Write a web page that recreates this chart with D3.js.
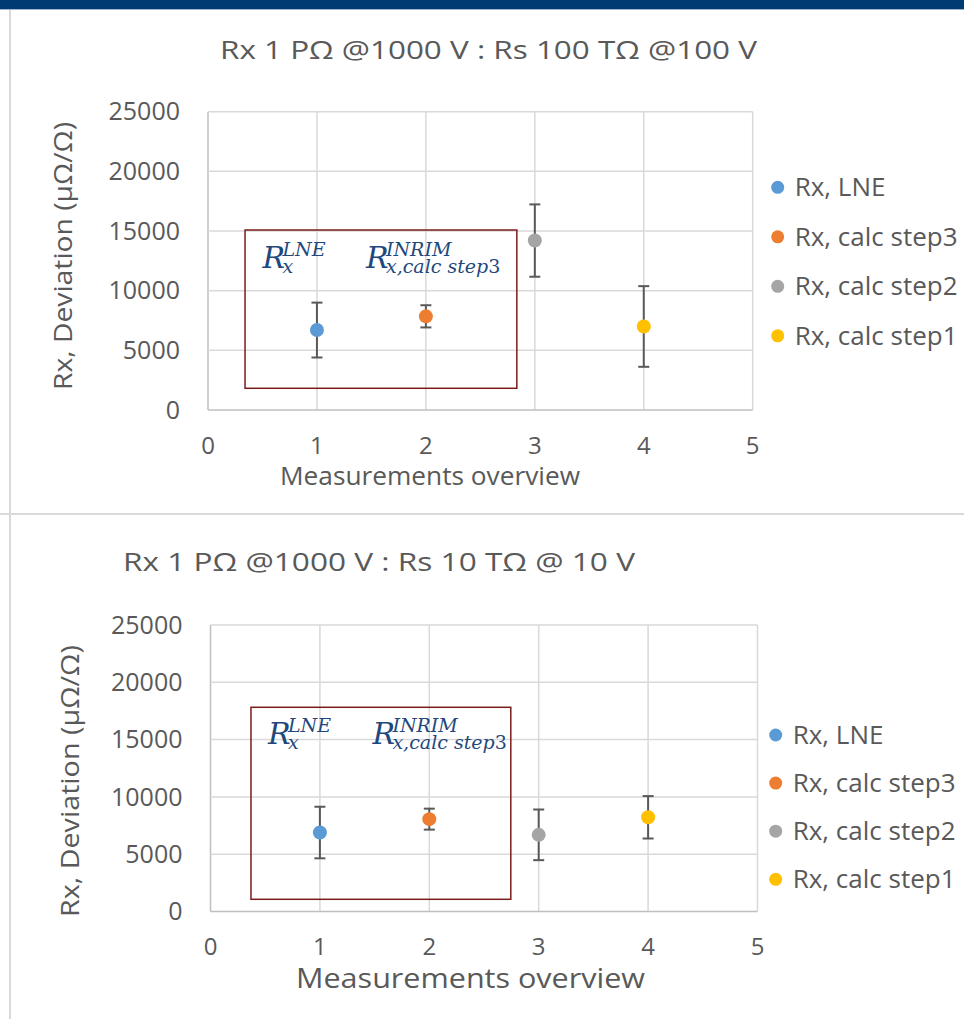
<html lang="en">
<head>
  <meta charset="utf-8" />
  <script src="https://d3js.org/d3.v7.min.js"></script>
  <style>
    body { margin: 0; background: #fff; }
    text { font-family: "Open Sans", sans-serif; fill: #595959; }
    .math { font-family: "DejaVu Serif", serif; font-style: italic; fill: #1f497d; }
  </style>
</head>
<body>
<script>
// data
const seriesNames = ["Rx, LNE", "Rx, calc step3", "Rx, calc step2", "Rx, calc step1"];
const seriesColors = ["#5b9bd5", "#ed7d31", "#a5a5a5", "#ffc000"];
const xPositions = [1, 2, 3, 4];
const topValues = [6700, 7850, 14200, 7000];
const topErrors = [2300, 930, 3030, 3380];
const bottomValues = [6890, 8060, 6690, 8220];
const bottomErrors = [2250, 915, 2210, 1850];
const xTicks = [0, 1, 2, 3, 4, 5];
const yTicks = [0, 5000, 10000, 15000, 20000, 25000];
const topTitle = "Rx 1 PΩ @1000 V : Rs 100 TΩ @100 V";
const bottomTitle = "Rx 1 PΩ @1000 V : Rs 10 TΩ @ 10 V";
const xTitle = "Measurements overview";
const yTitle = "Rx, Deviation (μΩ/Ω)";

var svg = d3.select("body").append("svg")
  .attr("width", 964)
  .attr("height", 1019);

// header bar + panel frame
svg.append("rect").attr("x", 0).attr("y", 0).attr("width", 964).attr("height", 9).attr("fill", "#003b73");
svg.append("line").attr("x1", 0).attr("x2", 964).attr("y1", 9.5).attr("y2", 9.5).attr("stroke", "#9fb4cf").attr("stroke-width", 1);
svg.append("line").attr("x1", 10).attr("x2", 10).attr("y1", 10).attr("y2", 1019).attr("stroke", "#d9d9d9").attr("stroke-width", 2);
svg.append("line").attr("x1", 0).attr("x2", 964).attr("y1", 514).attr("y2", 514).attr("stroke", "#d9d9d9").attr("stroke-width", 2);

function drawChart(c) {
  var x = d3.scaleLinear().domain([0, 5]).range([c.left, c.right]);
  var y = d3.scaleLinear().domain([0, 25000]).range([c.bottom, c.top]);
  var g = svg.append("g");

  // gridlines
  g.selectAll(".vgrid").data(xTicks).join("line")
    .attr("x1", d => x(d)).attr("x2", d => x(d))
    .attr("y1", c.top).attr("y2", c.bottom)
    .attr("stroke", d => d == 0 ? "#bfbfbf" : "#d9d9d9").attr("stroke-width", 1.5);
  g.selectAll(".hgrid").data(yTicks).join("line")
    .attr("x1", c.left).attr("x2", c.right)
    .attr("y1", d => y(d)).attr("y2", d => y(d))
    .attr("stroke", d => d == 0 ? "#bfbfbf" : "#d9d9d9").attr("stroke-width", 1.5);

  // tick labels
  g.selectAll(".ylab").data(yTicks).join("text")
    .attr("x", c.left - 28).attr("y", d => y(d))
    .attr("dy", "0.35em").attr("text-anchor", "end")
    .attr("font-size", 25).text(d => d);
  g.selectAll(".xlab").data(xTicks).join("text")
    .attr("x", d => x(d)).attr("y", c.bottom + c.xLabOff)
    .attr("dy", "0.35em").attr("text-anchor", "middle")
    .attr("font-size", 24).text(d => d);

  // titles
  g.append("text").attr("x", c.titleX).attr("y", c.titleY).attr("dy", "0.35em")
    .attr("font-size", 26).attr("textLength", c.titleLen).attr("lengthAdjust", "spacingAndGlyphs")
    .text(c.title);
  g.append("text").attr("x", c.xTitleX).attr("y", c.xTitleY).attr("dy", "0.35em")
    .attr("text-anchor", "middle").attr("font-size", c.xTitleSize)
    .attr("textLength", c.xTitleLen).attr("lengthAdjust", "spacingAndGlyphs")
    .text(xTitle);
  g.append("text").attr("transform", "translate(" + c.yTitleX + "," + c.yTitleY + ") rotate(-90)")
    .attr("dy", "0.35em").attr("text-anchor", "middle").attr("font-size", 26)
    .attr("textLength", c.yTitleLen).attr("lengthAdjust", "spacingAndGlyphs")
    .text(yTitle);

  // highlight box
  g.append("rect")
    .attr("x", x(c.box[0])).attr("y", y(c.box[3]))
    .attr("width", x(c.box[1]) - x(c.box[0])).attr("height", y(c.box[2]) - y(c.box[3]))
    .attr("fill", "none").attr("stroke", "#7b1c1c").attr("stroke-width", 1.5);

  // math labels, one text each with sup / sub tspans
  function mathLabel(px, py, sup, sub) {
    var sx = px + 20;
    var t = g.append("text").attr("class", "math").attr("x", px).attr("y", py);
    t.append("tspan").attr("font-size", 30).text("R");
    t.append("tspan").attr("x", sx).attr("y", py - 12).attr("font-size", 19).text(sup);
    sub.forEach(function (p, i) {
      var s = t.append("tspan").attr("font-size", 19)
        .attr("font-style", p.up ? "normal" : "italic").text(p.t);
      if (i == 0) s.attr("x", sx).attr("y", py + 5);
    });
  }
  mathLabel(x(c.lab1[0]), y(c.lab1[1]), "LNE", [{t: "x"}]);
  mathLabel(x(c.lab2[0]), y(c.lab2[1]), "INRIM", [{t: "x,calc step"}, {t: "3", up: true}]);

  // error bars
  var pts = xPositions.map((d, i) => ({x: d, v: c.values[i], e: c.errors[i], col: seriesColors[i]}));
  g.selectAll(".ebar").data(pts).join("line")
    .attr("x1", d => x(d.x)).attr("x2", d => x(d.x))
    .attr("y1", d => y(d.v - d.e)).attr("y2", d => y(d.v + d.e))
    .attr("stroke", "#595959").attr("stroke-width", 2);
  g.selectAll(".capT").data(pts).join("line")
    .attr("x1", d => x(d.x) - 5.5).attr("x2", d => x(d.x) + 5.5)
    .attr("y1", d => y(d.v + d.e)).attr("y2", d => y(d.v + d.e))
    .attr("stroke", "#595959").attr("stroke-width", 2);
  g.selectAll(".capB").data(pts).join("line")
    .attr("x1", d => x(d.x) - 5.5).attr("x2", d => x(d.x) + 5.5)
    .attr("y1", d => y(d.v - d.e)).attr("y2", d => y(d.v - d.e))
    .attr("stroke", "#595959").attr("stroke-width", 2);

  // markers
  g.selectAll("circle.pt").data(pts).join("circle")
    .attr("class", "pt")
    .attr("cx", d => x(d.x)).attr("cy", d => y(d.v)).attr("r", 7)
    .attr("fill", d => d.col);

  // legend
  var lg = g.selectAll(".leg").data(seriesNames).join("g")
    .attr("transform", (d, i) => "translate(" + c.legX + "," + (c.legY + i * c.legStep) + ")");
  lg.append("circle").attr("r", 6.5).attr("fill", (d, i) => seriesColors[i]);
  lg.append("text").attr("x", 17).attr("dy", "0.35em").attr("font-size", 26).text(d => d);
}

drawChart({
  left: 208, right: 752.7, top: 111.7, bottom: 410,
  values: topValues, errors: topErrors,
  title: topTitle, titleX: 220, titleY: 50, titleLen: 537,
  xLabOff: 36, xTitleX: 430, xTitleY: 476, xTitleSize: 26, xTitleLen: 300,
  yTitleX: 63, yTitleY: 256, yTitleLen: 268,
  box: [0.34, 2.835, 1820, 15085],
  lab1: [0.5, 11930], lab2: [1.45, 11930],
  legX: 777.7, legY: 187.3, legStep: 49.5
});

drawChart({
  left: 210.5, right: 757.5, top: 625, bottom: 911.5,
  values: bottomValues, errors: bottomErrors,
  title: bottomTitle, titleX: 123, titleY: 562, titleLen: 512,
  xLabOff: 35, xTitleX: 470.5, xTitleY: 979, xTitleSize: 27, xTitleLen: 349,
  yTitleX: 70, yTitleY: 781, yTitleLen: 272,
  box: [0.37, 2.745, 1065, 17820],
  lab1: [0.525, 14630], lab2: [1.48, 14630],
  legX: 775.7, legY: 735, legStep: 48.1
});
</script>
</body>
</html>
